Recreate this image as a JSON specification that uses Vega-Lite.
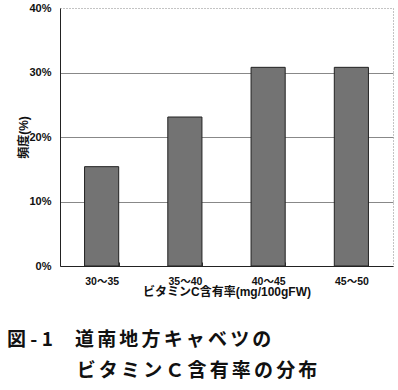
{
  "$schema": "https://vega.github.io/schema/vega-lite/v6.json",
  "autosize": "none",
  "padding": {"left": 60, "top": 8, "right": 5, "bottom": 124},
  "width": 333,
  "height": 258,
  "background": "white",
  "data": {"values": [
    {"range": "30〜35", "freq": 0.154},
    {"range": "35〜40", "freq": 0.231},
    {"range": "40〜45", "freq": 0.308},
    {"range": "45〜50", "freq": 0.308}
  ]},
  "config": {
    "font": "Liberation Sans, Noto Sans CJK JP",
    "view": {"stroke": "#888", "strokeDash": [1, 2], "strokeWidth": 1}
  },
  "title": {
    "text": ["図 - 1　\u2006道\u2006南\u2006地\u2006方\u2006キ\u2006ャ\u2006ベ\u2006ツ\u2006の", "\u200B　　　\u2002\u2006ビ\u2006タ\u2006ミ\u2006ン\u2006Ｃ\u2006含\u2006有\u2006率\u2006の\u2006分\u2006布"],
    "orient": "bottom",
    "anchor": "start",
    "frame": "group",
    "font": "Noto Sans CJK JP",
    "fontSize": 19,
    "fontWeight": "bold",
    "color": "#111",
    "lineHeight": 31,
    "offset": 33,
    "dx": -53
  },
  "mark": {"type": "bar", "fill": "#737373", "stroke": "#222", "strokeWidth": 1},
  "encoding": {
    "x": {
      "field": "range", "type": "nominal", "sort": null,
      "scale": {"paddingInner": 0.59, "paddingOuter": 0.295},
      "axis": {
        "title": "ビタミンC含有率(mg/100gFW)",
        "titleFontSize": 12, "titleFontWeight": "bold", "titleColor": "#111", "titlePadding": 0,
        "labelAngle": 0, "labelFontSize": 10.5, "labelFontWeight": "bold", "labelColor": "#111", "labelPadding": 14,
        "tickBand": "extent", "tickSize": -4, "tickColor": "#333",
        "domainColor": "#222", "grid": false
      }
    },
    "y": {
      "field": "freq", "type": "quantitative",
      "scale": {"domain": [0, 0.4], "nice": false},
      "axis": {
        "title": "頻度(%)", "titleFontSize": 12, "titleFontWeight": "bold", "titleColor": "#111", "titlePadding": -2,
        "format": ".0%", "values": [0, 0.1, 0.2, 0.3, 0.4],
        "labelFontSize": 11, "labelFontWeight": "bold", "labelColor": "#111", "labelPadding": 9,
        "labelOverlap": false,
        "ticks": false, "domainColor": "#222",
        "grid": true, "gridColor": "#888",
        "gridOpacity": {"condition": {"test": "datum.value === 0 || datum.value >= 0.4", "value": 0}, "value": 1}
      }
    }
  }
}
